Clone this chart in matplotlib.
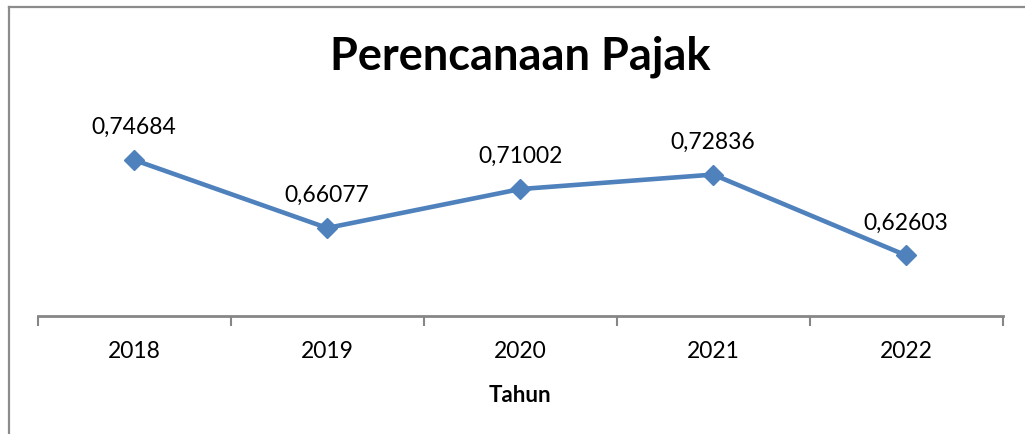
import matplotlib
matplotlib.use("Agg")
import matplotlib.pyplot as plt
from matplotlib.lines import Line2D

years = ["2018", "2019", "2020", "2021", "2022"]
values = [0.74684, 0.66077, 0.71002, 0.72836, 0.62603]
labels = ["0,74684", "0,66077", "0,71002", "0,72836", "0,62603"]

plt.rcParams["font.family"] = ["Lato", "DejaVu Sans"]

fig = plt.figure(figsize=(10.25, 4.35), dpi=100)
ax = fig.add_axes([37.7 / 1025, 118 / 435, 965 / 1025, 217 / 435])

x = list(range(len(years)))
ax.plot(x, values, color="#4F81BD", linewidth=3.3, marker="D", markersize=10,
        markeredgecolor="#4F81BD", markerfacecolor="#4F81BD", solid_capstyle="round")
for xi, v, lab in zip(x, values, labels):
    ax.annotate(lab, (xi, v), xytext=(0, 24), textcoords="offset points",
                ha="center", va="center", fontsize=16.5, color="black")

ax.set_xlim(-0.5, len(years) - 0.5)
ax.set_ylim(0.5494, 0.824)
ax.set_yticks([])
ax.set_xticks([i - 0.5 for i in range(len(years) + 1)])
ax.set_xticklabels([])
ax.set_xticks(x, minor=True)
ax.set_xticklabels(years, minor=True, fontsize=16.5)
ax.tick_params(axis="x", which="major", direction="out", length=7, width=1.5, color="#868686")
ax.tick_params(axis="x", which="minor", length=0, pad=17)
for s in ["top", "right", "left"]:
    ax.spines[s].set_visible(False)
ax.spines["bottom"].set_color("#868686")
ax.spines["bottom"].set_linewidth(2)

ax.set_xlabel("Tahun", fontsize=16, fontweight="bold", labelpad=17)
fig.text(0.508, 1 - 70 / 435, "Perencanaan Pajak", ha="center", va="baseline",
         fontsize=32.5, fontweight="bold")

# outer chart frame (cropped at right and bottom)
fig.add_artist(Line2D([8.5 / 1025, 8.5 / 1025], [0, 1 - 7.5 / 435], transform=fig.transFigure,
                      color="#8c8c8c", linewidth=1.6))
fig.add_artist(Line2D([8.5 / 1025, 1], [1 - 7.5 / 435, 1 - 7.5 / 435], transform=fig.transFigure,
                      color="#8c8c8c", linewidth=1.6))

fig.savefig("out.png", dpi=100)
